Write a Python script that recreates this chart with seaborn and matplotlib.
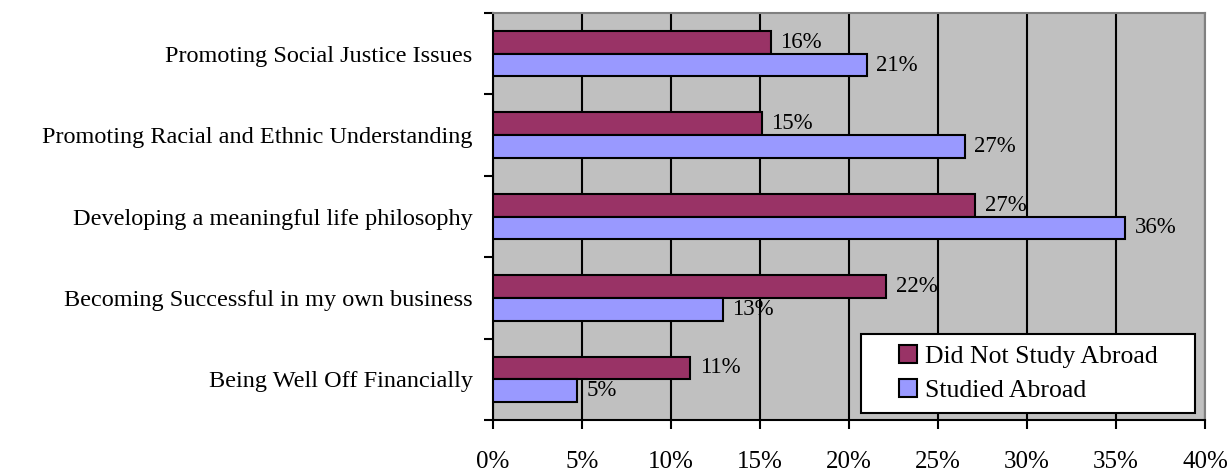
import matplotlib
matplotlib.use("Agg")
import matplotlib.pyplot as plt
import seaborn as sns
import pandas as pd
from matplotlib.ticker import MultipleLocator, FuncFormatter
from matplotlib.patches import Patch, Rectangle

categories = [
    "Promoting Social Justice Issues",
    "Promoting Racial and Ethnic Understanding",
    "Developing a meaningful life philosophy",
    "Becoming Successful in my own business",
    "Being Well Off Financially",
]
did_not_study = [15.6, 15.1, 27.1, 22.1, 11.1]
studied = [21.0, 26.5, 35.5, 12.9, 4.7]
series_names = ["Did Not Study Abroad", "Studied Abroad"]
colors = ["#993366", "#9999FF"]

df = pd.DataFrame({
    "category": categories * 2,
    "value": did_not_study + studied,
    "series": [series_names[0]] * 5 + [series_names[1]] * 5,
})

sns.set_style("white")
plt.rcParams["font.family"] = ["Liberation Serif", "DejaVu Serif"]
plt.rcParams["text.color"] = "black"
plt.rcParams["xtick.color"] = "black"
plt.rcParams["ytick.color"] = "black"

fig = plt.figure(figsize=(12.29, 4.72), dpi=100)
ax = fig.add_axes([0.401, 0.110, 0.5795, 0.8625])
ax.set_facecolor("#C0C0C0")

sns.barplot(data=df, y="category", x="value", hue="series", order=categories,
            hue_order=series_names, palette=colors, saturation=1, orient="h",
            width=0.56, edgecolor="black", linewidth=1.5, ax=ax, legend=False,
            zorder=3)

def pct(v):
    return f"{int(v + 0.5)}%"

for cont in ax.containers:
    ax.bar_label(cont, labels=[pct(w) for w in cont.datavalues],
                 padding=7, fontsize=16.5, color="black", zorder=4)

ax.set_xlim(0, 40)
ax.set_ylim(4.5, -0.5)
ax.xaxis.set_major_locator(MultipleLocator(5))
ax.xaxis.set_major_formatter(FuncFormatter(lambda v, p: f"{v:.0f}%"))
ax.grid(axis="x", color="black", linewidth=1.5, zorder=1)
ax.set_axisbelow(True)

ax.set_yticks(list(range(len(categories))))
ax.set_yticklabels(categories, fontsize=17.5)
ax.set_yticks([i - 0.5 for i in range(len(categories) + 1)], minor=True)
ax.tick_params(axis="y", which="major", left=True, length=0, pad=14.5)
ax.tick_params(axis="y", which="minor", left=True, length=6.5, width=1.5,
               color="black", direction="out")
ax.tick_params(axis="x", which="major", bottom=True, length=6.5, width=1.5,
               color="black", direction="out", pad=16, labelsize=18)
ax.set_xlabel("")
ax.set_ylabel("")

for s in ["left", "bottom"]:
    ax.spines[s].set_color("black")
    ax.spines[s].set_linewidth(1.5)
for s in ["top", "right"]:
    ax.spines[s].set_color("#808080")
    ax.spines[s].set_linewidth(1.5)

# legend frame and entries
frame = Rectangle((0.517, 0.017), 0.469, 0.194, transform=ax.transAxes,
                  facecolor="white", edgecolor="black", linewidth=1.5, zorder=5)
ax.add_patch(frame)
handles = [Patch(facecolor=c, edgecolor="black", linewidth=1.5, label=n)
           for c, n in zip(colors, series_names)]
leg = ax.legend(handles=handles, loc="center", bbox_to_anchor=(0.7515, 0.114),
                fontsize=18.5, frameon=False, handlelength=0.7, handleheight=0.7,
                handletextpad=0.3, borderpad=0, labelspacing=0.45,
                borderaxespad=0)
leg.set_zorder(6)

fig.savefig("out.png", dpi=100)
